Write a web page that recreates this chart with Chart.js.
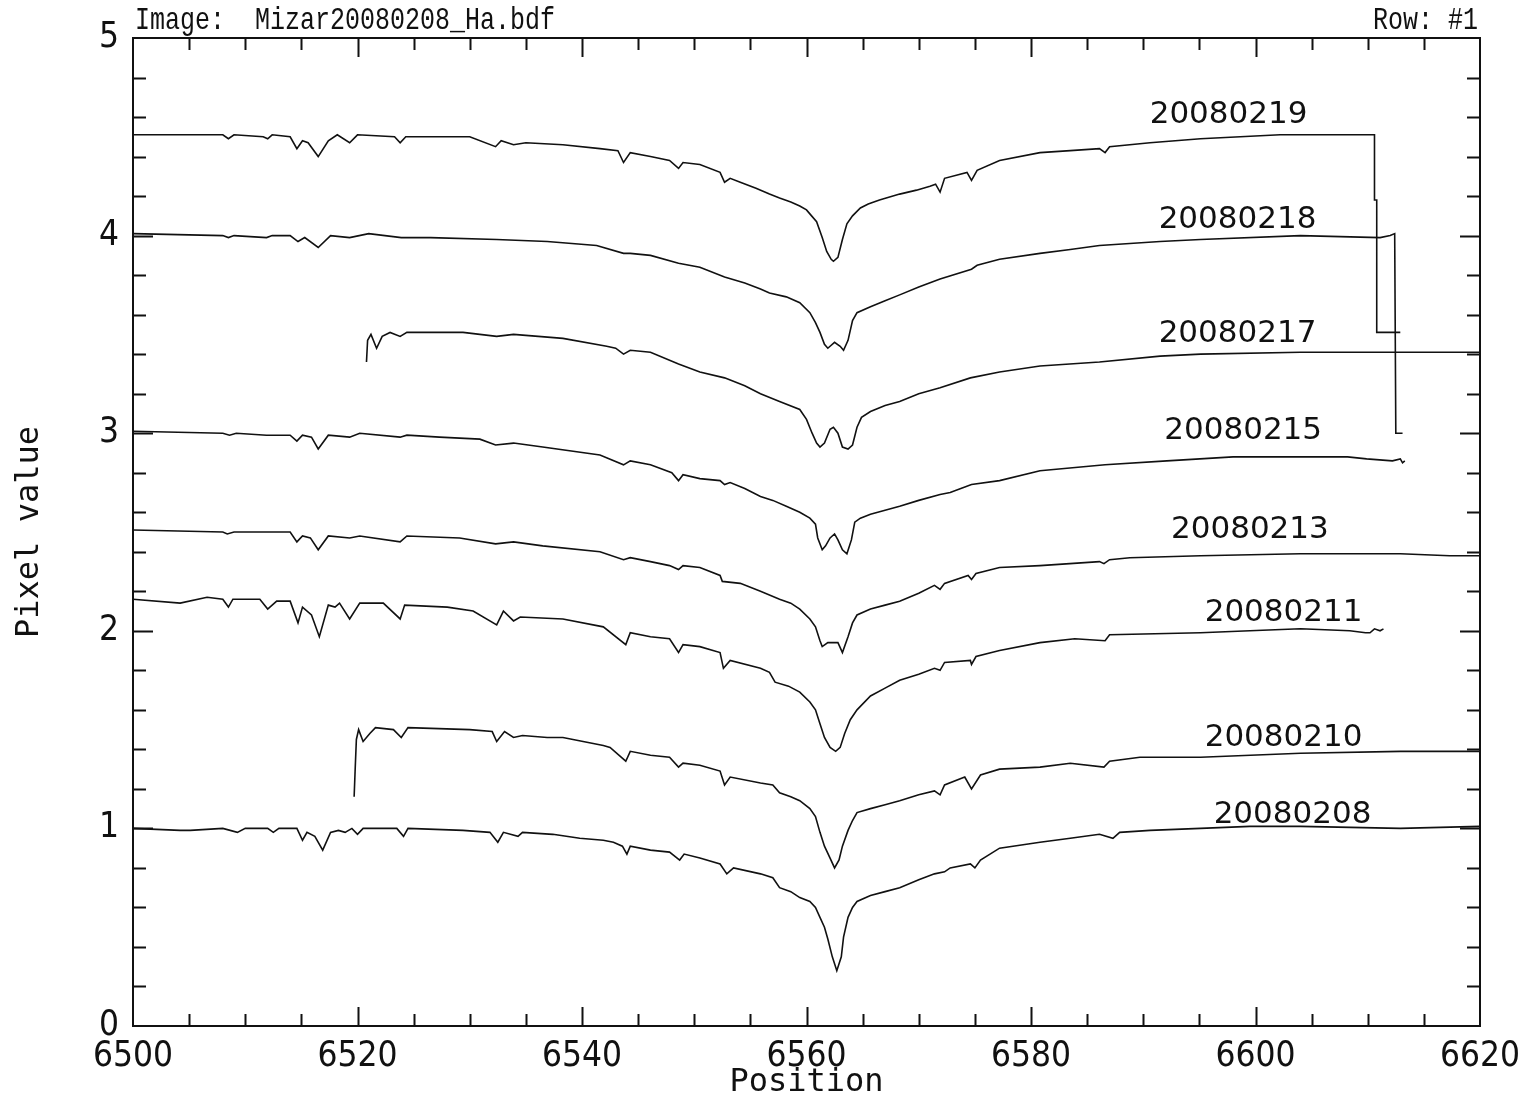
<!DOCTYPE html>
<html>
<head>
<meta charset="utf-8">
<title>Mizar H-alpha spectra</title>
<script src="https://cdn.jsdelivr.net/npm/chart.js@4.4.0/dist/chart.umd.min.js"></script>
<style>
  html, body { margin: 0; padding: 0; background: #fff; }
  #wrap { width: 1523px; height: 1099px; }
</style>
</head>
<body>
<div id="wrap"><canvas id="spectra"></canvas></div>
<script>
// spectra, [wavelength, pixel value]
const s20080219 = [[6500.0,4.51],[6508.0,4.51],[6508.5,4.49],[6509.0,4.51],[6511.6,4.50],[6512.0,4.49],[6512.4,4.51],[6514.0,4.50],[6514.6,4.44],[6515.1,4.48],[6515.6,4.47],[6516.5,4.40],[6517.4,4.48],[6518.2,4.51],[6519.3,4.47],[6520.0,4.51],[6523.3,4.50],[6523.8,4.47],[6524.3,4.50],[6530.0,4.50],[6532.3,4.45],[6532.8,4.48],[6533.9,4.46],[6535.0,4.47],[6538.3,4.46],[6541.6,4.44],[6543.2,4.43],[6543.7,4.37],[6544.3,4.42],[6546.1,4.40],[6547.8,4.38],[6548.6,4.34],[6549.0,4.37],[6550.5,4.36],[6552.3,4.32],[6552.7,4.27],[6553.2,4.29],[6554.1,4.27],[6555.5,4.24],[6556.7,4.21],[6557.6,4.19],[6558.6,4.17],[6559.4,4.15],[6560.0,4.13],[6560.3,4.11],[6560.9,4.07],[6561.4,3.99],[6561.8,3.92],[6562.2,3.88],[6562.4,3.87],[6562.8,3.89],[6563.2,3.98],[6563.6,4.06],[6564.1,4.10],[6564.8,4.14],[6565.5,4.16],[6566.5,4.18],[6568.3,4.21],[6569.8,4.23],[6571.0,4.25],[6571.5,4.26],[6571.9,4.22],[6572.3,4.29],[6574.3,4.32],[6574.7,4.28],[6575.2,4.33],[6577.2,4.38],[6580.8,4.42],[6583.5,4.43],[6586.1,4.44],[6586.6,4.42],[6587.0,4.45],[6590.6,4.47],[6595.1,4.49],[6602.2,4.51],[6610.6,4.51],[6610.6,4.18],[6610.8,4.18],[6610.8,3.51],[6612.9,3.51]];
const s20080218 = [[6500.0,4.01],[6508.0,4.00],[6508.5,3.99],[6509.0,4.00],[6511.9,3.99],[6512.4,4.00],[6514.0,4.00],[6514.7,3.97],[6515.3,3.99],[6516.5,3.94],[6517.6,4.00],[6519.3,3.99],[6521.0,4.01],[6523.9,3.99],[6526.5,3.99],[6532.4,3.98],[6536.9,3.97],[6541.3,3.95],[6543.7,3.91],[6544.3,3.91],[6546.1,3.90],[6548.6,3.86],[6550.5,3.84],[6552.7,3.79],[6554.5,3.76],[6555.9,3.73],[6556.7,3.71],[6558.2,3.69],[6559.4,3.66],[6560.3,3.61],[6560.8,3.56],[6561.2,3.51],[6561.6,3.45],[6561.9,3.43],[6562.1,3.44],[6562.5,3.46],[6563.0,3.44],[6563.3,3.42],[6563.7,3.47],[6564.1,3.57],[6564.5,3.61],[6565.7,3.64],[6567.0,3.67],[6568.3,3.70],[6570.0,3.74],[6571.9,3.78],[6574.7,3.83],[6575.2,3.85],[6577.2,3.88],[6580.8,3.91],[6583.5,3.93],[6586.1,3.95],[6591.5,3.97],[6595.1,3.98],[6604.0,4.00],[6611.1,3.99],[6612.0,4.00],[6612.4,4.01],[6612.5,3.00],[6613.1,3.00]];
const s20080217 = [[6520.8,3.36],[6520.9,3.47],[6521.2,3.50],[6521.7,3.43],[6522.2,3.49],[6522.9,3.51],[6523.8,3.49],[6524.4,3.51],[6529.4,3.51],[6532.4,3.49],[6533.9,3.50],[6538.3,3.48],[6542.2,3.44],[6543.0,3.43],[6543.7,3.40],[6544.3,3.42],[6546.1,3.41],[6548.6,3.35],[6550.5,3.31],[6552.7,3.28],[6554.5,3.24],[6555.9,3.20],[6557.6,3.16],[6559.4,3.12],[6560.0,3.07],[6560.5,3.00],[6560.9,2.95],[6561.2,2.93],[6561.6,2.95],[6562.1,3.02],[6562.4,3.03],[6562.8,3.00],[6563.2,2.93],[6563.7,2.92],[6564.1,2.94],[6564.5,3.03],[6564.9,3.08],[6565.7,3.11],[6567.0,3.14],[6568.3,3.16],[6570.0,3.20],[6571.9,3.23],[6574.6,3.28],[6577.2,3.31],[6580.8,3.34],[6586.1,3.36],[6591.5,3.39],[6595.1,3.40],[6604.0,3.41],[6620.0,3.41]];
const s20080215 = [[6500.0,3.01],[6508.0,3.00],[6508.6,2.99],[6509.2,3.00],[6511.9,2.99],[6514.0,2.99],[6514.6,2.96],[6515.1,2.99],[6515.9,2.98],[6516.5,2.92],[6517.4,2.99],[6519.3,2.98],[6520.2,3.00],[6523.8,2.98],[6524.4,2.99],[6527.3,2.98],[6530.9,2.97],[6532.3,2.94],[6533.9,2.95],[6536.5,2.93],[6541.6,2.89],[6543.7,2.84],[6544.3,2.86],[6546.1,2.84],[6548.0,2.80],[6548.6,2.76],[6549.0,2.79],[6550.5,2.77],[6552.3,2.76],[6552.7,2.74],[6553.2,2.75],[6554.5,2.72],[6555.9,2.68],[6557.0,2.66],[6558.2,2.63],[6559.4,2.60],[6560.3,2.57],[6560.8,2.54],[6561.0,2.47],[6561.4,2.41],[6561.7,2.43],[6562.1,2.47],[6562.5,2.49],[6562.8,2.46],[6563.2,2.41],[6563.6,2.39],[6564.0,2.46],[6564.3,2.55],[6564.8,2.57],[6565.7,2.59],[6567.0,2.61],[6568.3,2.63],[6570.0,2.66],[6571.9,2.69],[6572.8,2.70],[6574.7,2.74],[6577.2,2.76],[6580.8,2.81],[6586.6,2.84],[6592.1,2.86],[6598.0,2.88],[6604.0,2.88],[6608.2,2.88],[6609.9,2.87],[6612.2,2.86],[6612.9,2.87],[6613.1,2.85],[6613.3,2.86]];
const s20080213 = [[6500.0,2.51],[6508.0,2.50],[6508.4,2.49],[6509.0,2.50],[6511.9,2.50],[6514.0,2.50],[6514.6,2.45],[6515.1,2.48],[6515.8,2.47],[6516.5,2.41],[6517.4,2.48],[6519.3,2.47],[6520.2,2.48],[6523.8,2.45],[6524.4,2.48],[6529.1,2.47],[6532.3,2.44],[6533.9,2.45],[6536.5,2.43],[6541.6,2.40],[6543.7,2.36],[6544.3,2.37],[6546.1,2.35],[6547.8,2.33],[6548.6,2.31],[6549.0,2.33],[6550.5,2.32],[6552.3,2.28],[6552.5,2.25],[6554.1,2.24],[6555.9,2.20],[6557.6,2.16],[6558.6,2.14],[6559.4,2.11],[6560.3,2.06],[6560.8,2.02],[6561.2,1.95],[6561.4,1.92],[6561.9,1.94],[6562.4,1.94],[6562.8,1.94],[6563.2,1.89],[6563.7,1.97],[6564.1,2.04],[6564.5,2.08],[6565.7,2.11],[6567.0,2.13],[6568.3,2.15],[6570.0,2.19],[6571.4,2.23],[6571.9,2.21],[6572.3,2.24],[6574.4,2.28],[6574.7,2.26],[6575.1,2.29],[6577.2,2.32],[6580.8,2.33],[6586.1,2.35],[6586.5,2.34],[6587.0,2.36],[6588.8,2.37],[6595.1,2.38],[6604.0,2.39],[6612.9,2.39],[6617.3,2.38],[6620.0,2.38]];
const s20080211 = [[6500.0,2.16],[6504.2,2.14],[6506.6,2.17],[6508.0,2.16],[6508.5,2.12],[6508.9,2.16],[6511.3,2.16],[6512.0,2.11],[6512.8,2.15],[6514.0,2.15],[6514.7,2.04],[6515.1,2.12],[6515.9,2.08],[6516.6,1.97],[6517.4,2.13],[6518.0,2.12],[6518.4,2.14],[6519.3,2.06],[6520.2,2.14],[6522.3,2.14],[6523.8,2.06],[6524.2,2.13],[6528.0,2.12],[6530.3,2.10],[6532.4,2.03],[6533.0,2.10],[6533.9,2.05],[6534.5,2.07],[6538.3,2.06],[6541.9,2.02],[6543.9,1.93],[6544.3,1.99],[6546.1,1.97],[6547.8,1.96],[6548.6,1.89],[6549.0,1.93],[6550.5,1.92],[6552.3,1.89],[6552.6,1.81],[6553.2,1.85],[6555.9,1.81],[6556.7,1.79],[6557.2,1.74],[6558.4,1.72],[6559.4,1.69],[6560.3,1.64],[6560.8,1.60],[6561.2,1.53],[6561.6,1.46],[6562.1,1.41],[6562.6,1.39],[6563.0,1.41],[6563.4,1.48],[6563.9,1.55],[6564.5,1.60],[6565.7,1.67],[6567.0,1.71],[6568.3,1.75],[6570.0,1.78],[6571.4,1.81],[6571.9,1.80],[6572.3,1.84],[6574.6,1.85],[6574.7,1.83],[6575.1,1.87],[6577.2,1.90],[6580.8,1.94],[6583.9,1.96],[6586.6,1.95],[6587.0,1.98],[6595.1,1.99],[6599.5,2.00],[6604.0,2.01],[6608.4,2.00],[6609.8,1.99],[6610.2,1.99],[6610.6,2.01],[6611.1,2.00],[6611.4,2.01]];
const s20080210 = [[6519.7,1.16],[6519.8,1.31],[6519.9,1.45],[6520.1,1.50],[6520.5,1.44],[6521.1,1.48],[6521.6,1.51],[6523.2,1.50],[6523.9,1.46],[6524.5,1.51],[6530.0,1.50],[6532.0,1.49],[6532.4,1.44],[6533.1,1.49],[6533.9,1.46],[6534.7,1.47],[6536.9,1.46],[6538.3,1.46],[6541.9,1.42],[6542.5,1.41],[6543.9,1.34],[6544.3,1.39],[6546.1,1.37],[6547.8,1.36],[6548.6,1.31],[6549.0,1.33],[6550.5,1.32],[6552.3,1.29],[6552.7,1.22],[6553.2,1.26],[6555.9,1.23],[6557.0,1.22],[6557.6,1.18],[6558.6,1.16],[6559.4,1.14],[6560.3,1.10],[6560.8,1.06],[6561.2,0.98],[6561.6,0.91],[6562.1,0.85],[6562.5,0.80],[6562.9,0.84],[6563.2,0.91],[6563.7,0.99],[6564.1,1.04],[6564.5,1.08],[6565.7,1.10],[6567.0,1.12],[6568.3,1.14],[6570.0,1.17],[6571.4,1.19],[6571.9,1.17],[6572.3,1.22],[6574.1,1.26],[6574.7,1.20],[6575.5,1.27],[6577.2,1.30],[6580.8,1.31],[6583.5,1.33],[6586.5,1.31],[6587.0,1.34],[6589.7,1.36],[6595.1,1.36],[6604.0,1.38],[6612.9,1.39],[6620.0,1.39]];
const s20080208 = [[6500.0,1.00],[6504.2,0.99],[6505.1,0.99],[6508.0,1.00],[6509.3,0.98],[6510.0,1.00],[6512.0,1.00],[6512.5,0.98],[6513.0,1.00],[6514.6,1.00],[6515.1,0.94],[6515.5,0.98],[6516.2,0.96],[6516.9,0.89],[6517.6,0.98],[6518.3,0.99],[6518.9,0.98],[6519.5,1.00],[6520.0,0.97],[6520.5,1.00],[6523.5,1.00],[6524.1,0.96],[6524.5,1.00],[6529.4,0.99],[6531.8,0.98],[6532.5,0.93],[6533.0,0.98],[6534.3,0.96],[6534.7,0.98],[6537.4,0.97],[6539.8,0.95],[6541.9,0.94],[6542.8,0.93],[6543.6,0.91],[6544.0,0.87],[6544.3,0.91],[6546.1,0.89],[6547.8,0.88],[6548.7,0.84],[6549.1,0.87],[6550.5,0.85],[6552.3,0.82],[6552.9,0.77],[6553.5,0.80],[6555.9,0.77],[6557.0,0.75],[6557.6,0.70],[6558.6,0.68],[6559.4,0.65],[6560.3,0.63],[6560.8,0.60],[6561.2,0.55],[6561.6,0.50],[6561.9,0.44],[6562.3,0.35],[6562.7,0.28],[6563.1,0.35],[6563.3,0.45],[6563.7,0.55],[6564.1,0.60],[6564.5,0.63],[6565.7,0.66],[6567.0,0.68],[6568.3,0.70],[6570.0,0.74],[6571.4,0.77],[6572.3,0.78],[6572.8,0.80],[6574.6,0.82],[6575.0,0.80],[6575.5,0.84],[6577.2,0.90],[6580.8,0.93],[6583.5,0.95],[6586.1,0.97],[6587.3,0.95],[6587.9,0.98],[6590.6,0.99],[6595.1,1.00],[6599.5,1.01],[6604.0,1.01],[6612.9,1.00],[6620.0,1.01]];

const seriesNames = ["20080219", "20080218", "20080217", "20080215", "20080213", "20080211", "20080210", "20080208"];
const seriesData = [s20080219, s20080218, s20080217, s20080215, s20080213, s20080211, s20080210, s20080208];
// where each date label sits, in data units (centre of text)
const labelX = [6597.6, 6598.4, 6598.4, 6598.9, 6599.5, 6602.5, 6602.5, 6603.3];
const labelY = [4.61, 4.08, 3.50, 3.01, 2.51, 2.09, 1.46, 1.07];

const xMin = 6500, xMax = 6620, xStep = 20, xMinorStep = 5;
const yMin = 0, yMax = 5, yStep = 1, yMinorStep = 0.2;

const titleLeft = "Image:  Mizar20080208_Ha.bdf";
const titleRight = "Row: #1";

const INK = "#111";

// frame, inward ticks, header and the date labels
const framePlugin = {
    id: "frame",
    afterDatasetsDraw(chart) {
        const ctx = chart.ctx;
        const area = chart.chartArea;
        const xs = chart.scales.x, ys = chart.scales.y;
        ctx.save();
        ctx.strokeStyle = INK;
        ctx.lineWidth = 2;
        ctx.strokeRect(area.left, area.top, area.right - area.left, area.bottom - area.top);

        ctx.beginPath();
        for (let v = xMin + xMinorStep; v < xMax; v += xMinorStep) {
            const px = Math.round(xs.getPixelForValue(v)) + 0.5;
            const len = (v - xMin) % xStep === 0 ? 19 : 12;
            ctx.moveTo(px, area.bottom); ctx.lineTo(px, area.bottom - len);
            ctx.moveTo(px, area.top); ctx.lineTo(px, area.top + len);
        }
        const nY = Math.round((yMax - yMin) / yMinorStep);
        for (let i = 1; i < nY; i++) {
            const v = yMin + i * yMinorStep;
            const py = Math.round(ys.getPixelForValue(v)) + 0.5;
            const len = i % 5 === 0 ? 20 : 13;
            ctx.moveTo(area.left, py); ctx.lineTo(area.left + len, py);
            ctx.moveTo(area.right, py); ctx.lineTo(area.right - len, py);
        }
        ctx.stroke();

        // header, a narrow tall face like the original plotter font
        ctx.fillStyle = INK;
        ctx.font = "25px 'Liberation Mono', 'DejaVu Sans Mono', monospace";
        ctx.textBaseline = "alphabetic";
        ctx.save();
        ctx.translate(0, 29);
        ctx.scale(1, 1.25);
        ctx.textAlign = "left";
        ctx.fillText(titleLeft, area.left + 2, 0);
        ctx.textAlign = "right";
        ctx.fillText(titleRight, area.right - 2, 0);
        ctx.restore();

        ctx.font = "31px 'DejaVu Sans', sans-serif";
        ctx.textAlign = "center";
        ctx.textBaseline = "middle";
        seriesNames.forEach((name, i) => {
            ctx.fillText(name, xs.getPixelForValue(labelX[i]), ys.getPixelForValue(labelY[i]));
        });
        ctx.restore();
    }
};

const tickFont = { family: "'Liberation Sans Narrow', 'DejaVu Sans Condensed', sans-serif", size: 35 };
const axisFont = { family: "'DejaVu Sans Mono', monospace", size: 32, lineHeight: 1 };

new Chart(document.getElementById("spectra"), {
    type: "line",
    data: {
        datasets: seriesData.map((pts, i) => ({
            label: seriesNames[i],
            data: pts.map(p => ({ x: p[0], y: p[1] })),
            borderColor: INK,
            borderWidth: 1.6,
            pointRadius: 0,
            tension: 0,
            fill: false
        }))
    },
    options: {
        responsive: true,
        maintainAspectRatio: false,
        animation: false,
        events: [],
        layout: { padding: { top: 38, right: 43, left: 0, bottom: 0 } },
        plugins: {
            legend: { display: false },
            tooltip: { enabled: false }
        },
        scales: {
            x: {
                type: "linear",
                min: xMin,
                max: xMax,
                grid: { display: false, drawTicks: false },
                border: { display: false },
                ticks: {
                    stepSize: xStep,
                    color: INK,
                    font: tickFont,
                    padding: 10,
                    maxRotation: 0,
                    callback: v => String(v)
                },
                title: { display: true, text: "Position", color: INK, font: axisFont, padding: { top: 0, bottom: 0 } },
                afterFit: s => { s.height = 73; s.paddingLeft = 0; s.paddingRight = 0; }
            },
            y: {
                min: yMin,
                max: yMax,
                grid: { display: false, drawTicks: false },
                border: { display: false },
                ticks: {
                    stepSize: yStep,
                    color: INK,
                    font: tickFont,
                    padding: 14,
                    callback: v => String(v)
                },
                title: { display: true, text: "Pixel value", color: INK, font: axisFont, padding: { top: 14, bottom: 0 } },
                afterFit: s => { s.width = 133; s.paddingTop = 0; s.paddingBottom = 0; }
            }
        }
    },
    plugins: [framePlugin]
});
</script>
</body>
</html>
